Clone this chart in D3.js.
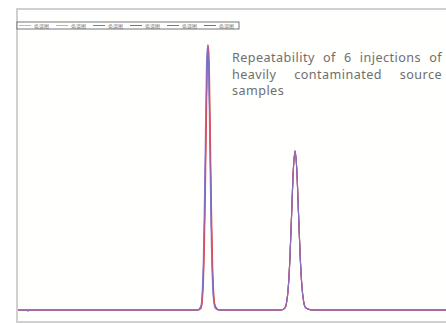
<!DOCTYPE html>
<html><head><meta charset="utf-8">
<script src="https://cdn.jsdelivr.net/npm/d3@7"></script>
<style>html,body{margin:0;padding:0;background:#fff;}svg{display:block;}</style>
</head><body>
<svg id="c" width="446" height="323"></svg>
<script>
// retention time (min)
const times = [0, 0.34, 0.38, 0.42,
  6.30, 6.42, 6.46, 6.50, 6.54, 6.58, 6.62, 6.66, 6.70, 6.74, 6.78, 6.82, 6.86, 6.92, 7.05,
  9.22, 9.34, 9.40, 9.46, 9.52, 9.58, 9.64, 9.70, 9.76, 9.82, 9.88, 9.94, 10.00, 10.06, 10.20, 10.30,
  15];
const seriesNames = ["色谱图", "色谱图", "色谱图", "色谱图", "色谱图", "色谱图"];
const s1 = [0,0,0,0, 0,11,44,134,323,604,878,996,880,605,324,139,50,12,0, 0,7,26,81,194,362,528,598,529,365,200,88,32,10,2,0, 0];
const s2 = [0,0,0,0, 0,11,45,136,327,609,885,1003,886,609,327,141,51,12,0, 0,7,26,82,196,366,532,603,532,368,201,89,32,10,2,0, 0];
const s3 = [0,0,-5,0, 0,19,70,196,430,730,966,998,802,501,245,96,32,6,0, 0,7,26,81,194,363,529,599,529,365,199,88,32,10,2,0, 0];
const s4 = [0,0,0,0, 0,6,27,91,241,494,790,1000,966,719,423,200,75,14,0, 0,7,26,81,195,364,530,600,530,366,200,88,32,10,2,0, 0];
const s5 = [0,0,0,0, 0,11,44,135,326,608,883,1001,883,608,326,140,50,12,0, 0,7,26,81,195,365,531,601,531,366,200,88,32,10,2,0, 0];
const s6 = [0,0,0,0, 0,10,43,133,321,600,874,993,876,602,322,138,49,12,0, 0,7,26,80,193,361,527,597,528,364,199,87,32,10,2,0, 0];
const seriesValues = [s1, s2, s3, s4, s5, s6];
const colors = ["#9cc3e4", "#eba487", "#7576d2", "#e5484f", "#a455c4", "#b35a52"];
const drawOrder = [0, 1, 5, 4, 3, 2];
const opac = [0.9, 0.9, 0.85, 0.9, 0.7, 0.9];
const noteLines = ["Repeatability of 6 injections of", "heavily contaminated source", "samples"];

const svg = d3.select("#c");
const W = 446, H = 323;
const mLeft = 17, mTop = 9, mBottom = 322, mRight = 447;

svg.append("rect").attr("x", 0).attr("y", 0).attr("width", W).attr("height", H).attr("fill", "#fff");
svg.append("rect").attr("x", mLeft).attr("y", mTop).attr("width", mRight - mLeft + 10).attr("height", mBottom - mTop)
  .attr("fill", "#fffffd").attr("stroke", "#d0d0d0").attr("stroke-width", 2);

const x = d3.scaleLinear().domain([0, 15]).range([mLeft, mRight]);
const y = d3.scaleLinear().domain([-45, 1136]).range([mBottom, mTop]);

svg.append("clipPath").attr("id", "clip").append("rect")
  .attr("x", mLeft + 1).attr("y", mTop + 1).attr("width", mRight - mLeft).attr("height", mBottom - mTop - 2);

const line = d3.line().x((d, i) => x(times[i])).y(d => y(d)).curve(d3.curveMonotoneX);
const g = svg.append("g").attr("clip-path", "url(#clip)");
drawOrder.forEach(k => {
  g.append("path").attr("d", line(seriesValues[k])).attr("fill", "none")
    .attr("stroke", colors[k]).attr("stroke-width", 1.1).attr("stroke-opacity", opac[k]);
});

// legend
const lg = svg.append("g");
lg.append("rect").attr("x", mLeft).attr("y", 22).attr("width", 222).attr("height", 7)
  .attr("fill", "#fff").attr("stroke", "#555").attr("stroke-width", 0.8);
seriesNames.forEach((n, i) => {
  const x0 = mLeft + 2 + i * 37;
  lg.append("line").attr("x1", x0).attr("x2", x0 + 12).attr("y1", 25.5).attr("y2", 25.5)
    .attr("stroke", colors[i]).attr("stroke-width", 1);
  lg.append("text").attr("x", x0 + 15).attr("y", 27.6).text(n)
    .attr("font-family", "Noto Sans CJK SC").attr("font-size", 5).attr("fill", "#777");
});

// annotation, justified
const tx0 = 232, tx1 = 442;
noteLines.forEach((ln, li) => {
  const yy = 62 + li * 16.5;
  const words = ln.split(" ");
  const tg = svg.append("g");
  const nodes = words.map(w => tg.append("text").text(w).attr("y", yy)
    .attr("font-family", "Noto Sans").attr("font-size", 12.6).attr("letter-spacing", 0.45)
    .attr("fill", "#6e6e6e"));
  const widths = nodes.map(n => n.node().getComputedTextLength());
  const total = d3.sum(widths);
  const justify = li < noteLines.length - 1 && words.length > 1;
  const gap = justify ? (tx1 - tx0 - total) / (words.length - 1) : 3.4;
  let cx = tx0;
  nodes.forEach((n, i) => { n.attr("x", cx); cx += widths[i] + gap; });
});
</script>
</body></html>
